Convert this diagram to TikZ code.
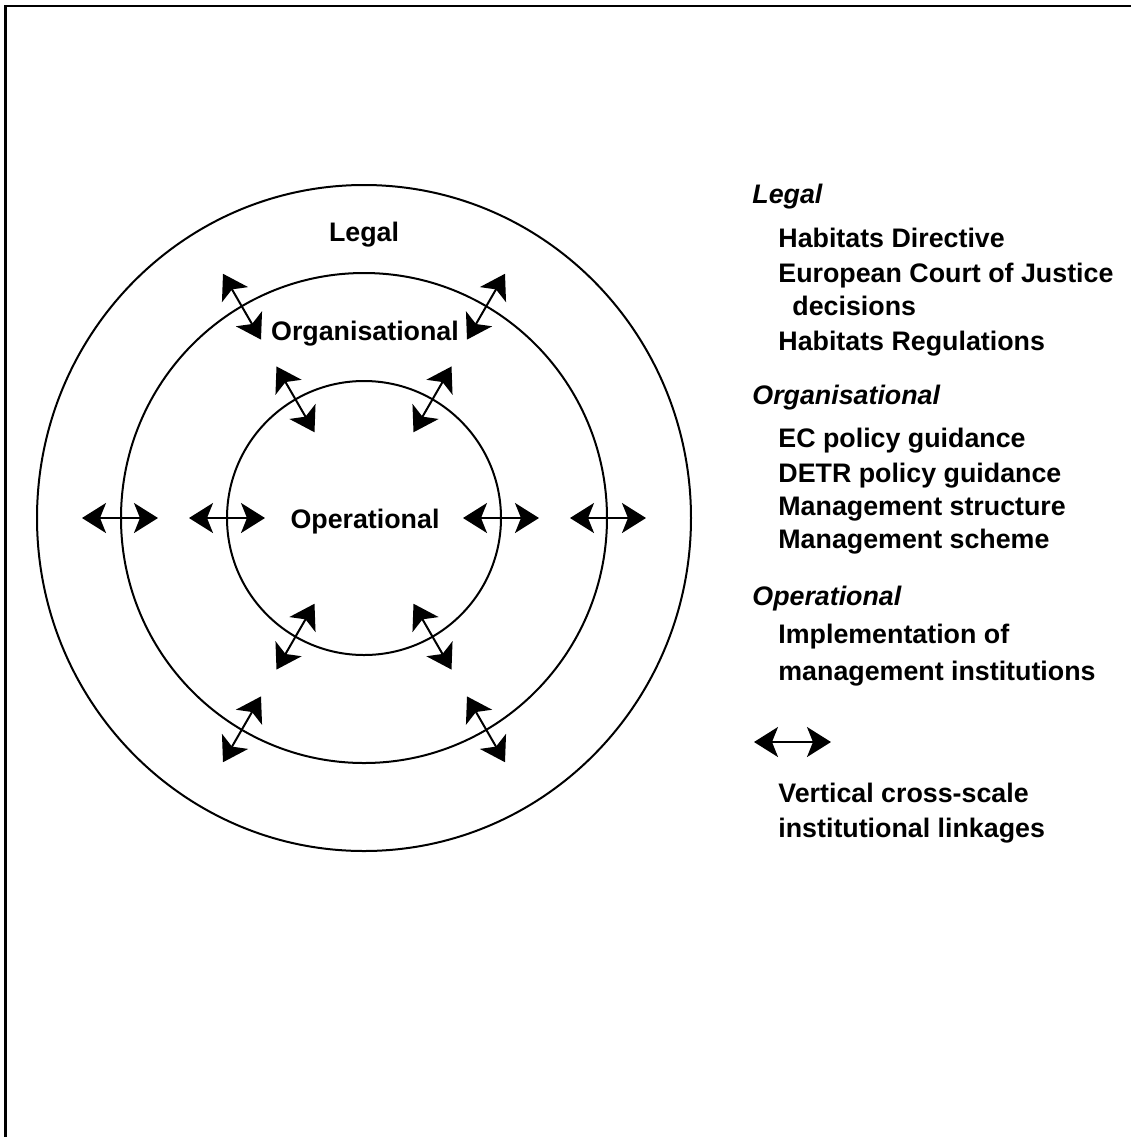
\documentclass[tikz,border=0pt]{standalone}
\usepackage{fontspec}
\setmainfont{Liberation Sans}
\usetikzlibrary{arrows.meta,calc}
\tikzset{
  ring/.style={draw=black,line width=1pt},
  link/.style={line width=1pt,{Stealth[length=12pt,width=15pt,inset=3pt]}-{Stealth[length=12pt,width=15pt,inset=3pt]}},
  lbl/.style={font=\fontsize{13.4}{16}\selectfont\bfseries,inner sep=0pt},
  head/.style={font=\fontsize{13.4}{16}\selectfont\bfseries\itshape,inner sep=0pt,anchor=base west},
  item/.style={font=\fontsize{13.4}{16}\selectfont\bfseries,inner sep=0pt,anchor=base west},
  frame/.style={line width=1.4pt}
}
\begin{document}
\begin{tikzpicture}[x=0.5pt,y=-0.5pt]
\useasboundingbox (0,0) rectangle (1131,1137);
% frame (left and top edges only)
\coordinate (fbl) at (5.5,1137);
\coordinate (ftl) at (5.5,6);
\coordinate (ftr) at (1131,6);
\draw[frame] (fbl) -- (ftl) -- (ftr);
% circles
\coordinate (c) at (364,518);
\draw[ring] (c) ellipse[x radius=327,y radius=333];
\draw[ring] (c) ellipse[x radius=243,y radius=245];
\draw[ring] (c) circle[radius=137];
% circle labels
\node[lbl,anchor=base] (legal) at (364,241) {Legal};
\node[lbl,anchor=base] (org) at (365,340) {Organisational};
\node[lbl,anchor=base] (oper) at (365,528) {Operational};
% linkage arrows
\foreach \r/\n in {244/m,137/i}{
  \foreach \a in {0,60,120,180,240,300}{
    \coordinate (\n\a s) at ($(c)+({(\r-38)*cos(\a)},{(\r-38)*sin(\a)})$);
    \coordinate (\n\a e) at ($(c)+({(\r+38)*cos(\a)},{(\r+38)*sin(\a)})$);
    \draw[link] (\n\a s) -- (\n\a e);
  }
}
% legend
\node[head] (hlegal) at (752,203) {Legal};
\node[item] (l1) at (778,247) {Habitats Directive};
\node[item] (l2) at (778,282) {European Court of Justice};
\node[item] (l3) at (792,315) {decisions};
\node[item] (l4) at (778,350) {Habitats Regulations};
\node[head] (horg) at (752,404) {Organisational};
\node[item] (o1) at (778,447) {EC policy guidance};
\node[item] (o2) at (778,482) {DETR policy guidance};
\node[item] (o3) at (778,515) {Management structure};
\node[item] (o4) at (778,548) {Management scheme};
\node[head] (hop) at (752,605) {Operational};
\node[item] (p1) at (778,643) {Implementation of};
\node[item] (p2) at (778,680) {management institutions};
\coordinate (kl) at (754,742);
\coordinate (kr) at (831,742);
\draw[link] (kl) -- (kr);
\node[item] (k1) at (778,802) {Vertical cross-scale};
\node[item] (k2) at (778,837) {institutional linkages};
\end{tikzpicture}
\end{document}
